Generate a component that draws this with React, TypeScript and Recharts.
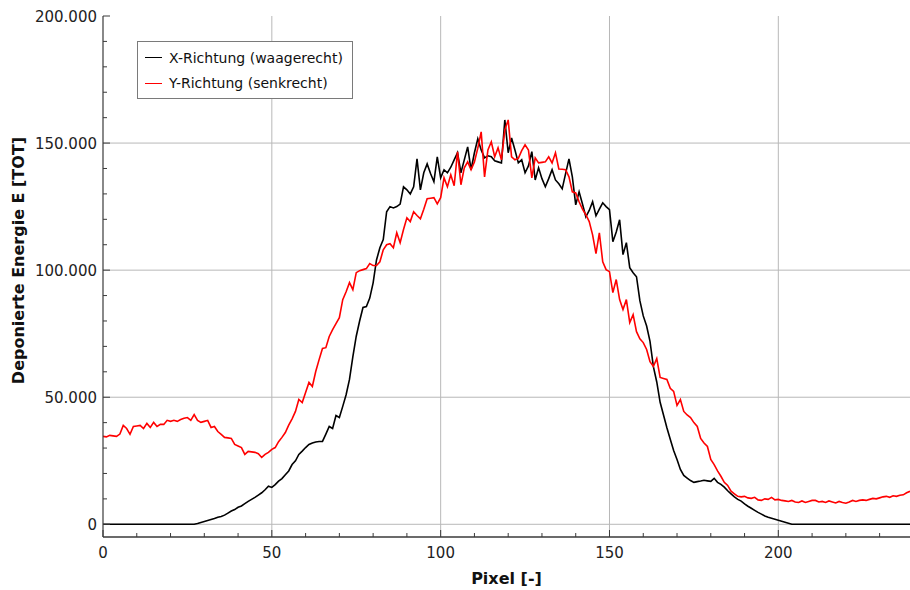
import React from "react";
import { LineChart, Line, XAxis, YAxis, CartesianGrid, Legend } from "recharts";

// Deponierte Energie entlang der Pixel (Index 0..239)
const xRichtung: number[] = [
  0, 0, 0, 0, 0, 0, 0, 0, 0, 0,
  0, 0, 0, 0, 0, 0, 0, 0, 0, 0,
  0, 0, 0, 0, 0, 0, 0, 0, 300, 700,
  1100, 1500, 1900, 2300, 2800, 3100, 3600, 4400, 5200, 5800,
  6700, 7200, 8100, 9000, 9800, 10600, 11500, 12400, 13600, 15000,
  14500, 15600, 17000, 18000, 19500, 21000, 23500, 25000, 27500, 28800,
  30200, 31400, 32000, 32400, 32600, 32600, 35500, 38500, 37700, 42800,
  42000, 46400, 51000, 57000, 66000, 74000, 80000, 85300, 85700, 89000,
  95000, 104000, 108800, 112000, 123000, 125000, 124500, 125000, 126000, 132800,
  131600, 130000, 132800, 143800, 131600, 138300, 141800, 138000, 134800, 144600,
  136300, 139500, 138300, 140500, 143400, 146200, 138300, 143400, 148500, 139500,
  146200, 151700, 147300, 144200, 145000, 144600, 143000, 142600, 142200, 159100,
  146200, 152000, 147300, 142200, 143400, 138300, 141000, 146600, 135500, 140300,
  136000, 132800, 136000, 139500, 135500, 134000, 132000, 138000, 143800, 136700,
  125700, 130800, 126000, 121000, 123500, 126900, 121400, 124000, 126500, 125000,
  123800, 111200, 115000, 119800, 106100, 110800, 101000, 99000, 97400, 88000,
  82000, 78000, 72000, 62000, 56000, 48000, 43000, 38000, 33500, 29000,
  25500, 21600, 19200, 18200, 17200, 16500, 16800, 17000, 17300, 17100,
  16900, 18100, 16500, 15700, 14600, 13200, 12000, 10800, 9800, 9100,
  8000, 7100, 6300, 5500, 4700, 4000, 3300, 2800, 2400, 2000,
  1600, 1200, 800, 400, 0, 0, 0, 0, 0, 0,
  0, 0, 0, 0, 0, 0, 0, 0, 0, 0,
  0, 0, 0, 0, 0, 0, 0, 0, 0, 0,
  0, 0, 0, 0, 0, 0, 0, 0, 0, 0,
];

const yRichtung: number[] = [
  34600, 34400, 35000, 34800, 34600, 35500, 38900, 37700, 35400, 38500,
  38700, 38900, 37700, 39700, 38100, 40100, 38500, 39300, 39300, 40900,
  40500, 40900, 40500, 41200, 41700, 42000, 40900, 43200, 40900, 40100,
  40500, 40900, 38100, 38500, 36500, 35400, 34200, 34000, 33800, 31400,
  30800, 30200, 27500, 28700, 28500, 28300, 27800, 26300, 27500, 28300,
  29500, 30200, 32500, 34200, 36100, 39000, 41500, 44400, 49100, 47900,
  51900, 55800, 54200, 60100, 64800, 69200, 69500, 73900, 76600, 79000,
  81300, 88400, 91500, 95100, 92300, 99000, 99800, 100200, 100600, 102600,
  101800, 101800, 103300, 108000, 110000, 110400, 108800, 114700, 110800, 116000,
  120600, 119100, 123000, 121500, 120200, 124000, 128100, 128300, 128500, 126100,
  128500, 136300, 132800, 137500, 133200, 146600, 133600, 140300, 142600, 139500,
  142600, 148000, 154400, 136700, 147300, 150500, 144600, 148100, 143400, 155200,
  159100, 144600, 143400, 144000, 147000, 149300, 147300, 136300, 144200, 142200,
  142400, 142600, 144600, 142200, 146200, 139800, 139700, 139500, 136700, 130800,
  130400, 126900, 124000, 121800, 119100, 113900, 106500, 114700, 103300, 100200,
  99400, 91200, 96300, 88400, 84500, 88400, 79400, 82500, 75800, 73000,
  71500, 68800, 64000, 62100, 65200, 57800, 57400, 57000, 53500, 52300,
  46800, 49100, 44400, 43000, 42000, 40000, 38500, 33800, 32000, 30600,
  25500, 23500, 21000, 18900, 16500, 15300, 13000, 12000, 11000, 10800,
  11000, 10400, 10200, 10600, 9600, 9400, 10000, 9800, 10600, 9600,
  9800, 9400, 9200, 9000, 9400, 8800, 8600, 9200, 8600, 9000,
  9400, 9400, 8800, 9000, 8600, 9200, 8800, 8400, 9000, 8600,
  8300, 8800, 9400, 9000, 9400, 9600, 9400, 9800, 10200, 10000,
  10400, 10800, 11000, 10600, 11200, 11000, 11400, 11600, 12400, 13000,
];

const xTicks: number[] = [0, 10, 20, 30, 40, 50, 60, 70, 80, 90, 100, 110, 120, 130, 140, 150, 160, 170, 180, 190, 200, 210, 220, 230];
const xMajor: number[] = [0, 50, 100, 150, 200];
const yTicks: number[] = [0, 10000, 20000, 30000, 40000, 50000, 60000, 70000, 80000, 90000, 100000, 110000, 120000, 130000, 140000, 150000, 160000, 170000, 180000, 190000, 200000];
const yMajor: number[] = [0, 50000, 100000, 150000, 200000];
const seriesNames: string[] = ["X-Richtung (waagerecht)", "Y-Richtung (senkrecht)"];
const seriesColors: string[] = ["#000000", "#ff0000"];

const pixels: number[] = Array.from({ length: xRichtung.length }, (_, i) => i);
const data = pixels.map((p, i) => ({ pixel: p, x: xRichtung[i], y: yRichtung[i] }));

const FONT = "'DejaVu Sans', sans-serif";
const AXIS = "#3a3a3a";

const fmtDe = (v: number) => v.toLocaleString("de-DE");

const BottomTick = (props: any) => {
  const { x, y, payload } = props;
  const v = payload.value as number;
  const major = xMajor.includes(v);
  return (
    <g>
      <line x1={x} x2={x} y1={y} y2={y - (major ? 7 : 4)} stroke={AXIS} strokeWidth={1} />
      {major && (
        <text x={x} y={y + 21} textAnchor="middle" fontFamily={FONT} fontSize={15} fill="#222">
          {v}
        </text>
      )}
    </g>
  );
};

const TopTick = (props: any) => {
  const { x, y, payload } = props;
  const v = payload.value as number;
  const major = xMajor.includes(v);
  return <line x1={x} x2={x} y1={y} y2={y + (major ? 7 : 4)} stroke={AXIS} strokeWidth={1} />;
};

const LeftTick = (props: any) => {
  const { x, y, payload } = props;
  const v = payload.value as number;
  const major = yMajor.includes(v);
  return (
    <g>
      <line x1={x} x2={x + (major ? 7 : 4)} y1={y} y2={y} stroke={AXIS} strokeWidth={1} />
      {major && (
        <text x={x - 6} y={y + 5.5} textAnchor="end" fontFamily={FONT} fontSize={15} fill="#222">
          {fmtDe(v)}
        </text>
      )}
    </g>
  );
};

const LegendBox = () => (
  <div
    style={{
      border: "1px solid #7a7a7a",
      background: "#fff",
      padding: "3px 0 0 7px",
      boxSizing: "border-box",
      width: 216,
      height: 58,
      fontFamily: FONT,
      fontSize: 14,
      color: "#111",
    }}
  >
    {seriesNames.map((n, i) => (
      <div key={n} style={{ display: "flex", alignItems: "center", height: 25.5 }}>
        <span style={{ display: "inline-block", width: 17, height: 0, borderTop: `1.5px solid ${seriesColors[i]}`, marginRight: 7 }} />
        <span>{n}</span>
      </div>
    ))}
  </div>
);

export default function App() {
  return (
    <div style={{ position: "absolute", left: 0, top: 0, width: 910, height: 590, background: "#fff" }}>
      <LineChart width={910} height={590} data={data} margin={{ top: 16, right: 0, bottom: 0, left: 0 }}>
        <CartesianGrid
          stroke="#b8b8b8"
          strokeWidth={1}
          horizontalValues={[0, 50000, 100000, 150000]}
          verticalValues={[50, 100, 150, 200]}
        />
        <XAxis
          dataKey="pixel"
          type="number"
          domain={[0, 239]}
          allowDataOverflow
          ticks={xTicks}
          interval={0}
          height={53}
          tickSize={0}
          tickMargin={0}
          tickLine={false}
          axisLine={{ stroke: AXIS, strokeWidth: 1.5 }}
          tick={<BottomTick />}
          label={{ value: "Pixel [-]", position: "insideBottom", offset: 6, fontFamily: FONT, fontSize: 16, fontWeight: "bold", fill: "#111" }}
        />
        <XAxis
          xAxisId="top"
          orientation="top"
          dataKey="pixel"
          type="number"
          domain={[0, 239]}
          allowDataOverflow
          ticks={xTicks}
          interval={0}
          height={0}
          tickSize={0}
          tickMargin={0}
          tickLine={false}
          axisLine={{ stroke: AXIS, strokeWidth: 1.2 }}
          tick={<TopTick />}
        />
        <YAxis
          type="number"
          domain={[-5000, 200000]}
          allowDataOverflow
          ticks={yTicks}
          interval={0}
          width={103}
          tickSize={0}
          tickMargin={0}
          tickLine={false}
          axisLine={{ stroke: AXIS, strokeWidth: 1.2 }}
          tick={<LeftTick />}
          label={{ value: "Deponierte Energie E [TOT]", angle: -90, position: "insideLeft", offset: 18, dy: -16, fontFamily: FONT, fontSize: 16, fontWeight: "bold", fill: "#111", style: { textAnchor: "middle" } }}
        />
        <Legend
          layout="vertical"
          align="center"
          verticalAlign="middle"
          content={<LegendBox />}
          wrapperStyle={{ left: 137, top: 41, width: 216, height: 58 }}
        />
        <Line type="linear" dataKey="x" name={seriesNames[0]} stroke={seriesColors[0]} strokeWidth={1.6} dot={false} isAnimationActive={false} />
        <Line type="linear" dataKey="y" name={seriesNames[1]} stroke={seriesColors[1]} strokeWidth={1.6} dot={false} isAnimationActive={false} />
      </LineChart>
    </div>
  );
}
